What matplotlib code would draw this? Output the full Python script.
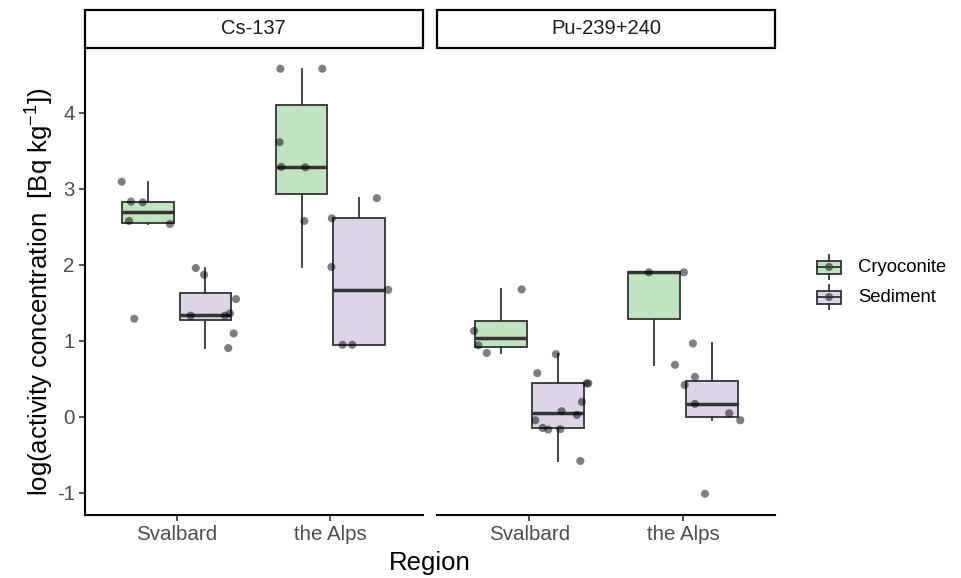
import numpy as np
import matplotlib
matplotlib.use("Agg")
import matplotlib.pyplot as plt
from matplotlib.patches import Rectangle

plt.rcParams['font.family'] = ['Liberation Sans', 'DejaVu Sans']
plt.rcParams['mathtext.fontset'] = 'custom'
plt.rcParams['mathtext.rm'] = 'Liberation Sans'
plt.rcParams['mathtext.it'] = 'Liberation Sans:italic'
plt.rcParams['axes.unicode_minus'] = False

isotopes = ['Cs-137', 'Pu-239+240']
regions = ['Svalbard', 'the Alps']
materials = ['Cryoconite', 'Sediment']
fills = {'Cryoconite': '#c0e3c0', 'Sediment': '#dcd6e8'}

# log(activity concentration) per isotope / region / material
cs_svalbard_cryo = [3.09, 2.83, 2.82, 2.575, 2.535, 1.29]
cs_svalbard_sed = [1.956, 1.868, 1.548, 1.33, 1.33, 1.36, 1.096, 0.904]
cs_alps_cryo = [4.575, 4.575, 3.61, 3.285, 3.28, 2.575, 1.97]
cs_alps_sed = [2.61, 2.875, 1.67, 0.947, 0.947]
pu_svalbard_cryo = [1.675, 1.13, 0.94, 0.84]
pu_svalbard_sed = [0.825, 0.575, 0.44, 0.44, 0.197, 0.075, 0.026,
                   -0.044, -0.145, -0.167, -0.162, -0.579]
pu_alps_cryo = [1.9, 1.9, 0.684]
pu_alps_sed = [0.965, 0.526, 0.42, 0.171, 0.048, -0.044, -1.01]

# horizontal jitter of each point around its region
cs_svalbard_cryo_jit = [-0.358, -0.297, -0.221, -0.310, -0.044, -0.276]
cs_svalbard_sed_jit = [0.124, 0.178, 0.386, 0.091, 0.314, 0.347, 0.371, 0.336]
cs_alps_cryo_jit = [-0.325, -0.052, -0.330, -0.319, -0.163, -0.169, 0.007]
cs_alps_sed_jit = [0.010, 0.303, 0.377, 0.080, 0.143]
pu_svalbard_cryo_jit = [-0.051, -0.361, -0.333, -0.278]
pu_svalbard_sed_jit = [0.172, 0.051, 0.372, 0.383, 0.342, 0.209, 0.309,
                       0.038, 0.086, 0.122, 0.200, 0.331]
pu_alps_cryo_jit = [-0.223, 0.005, -0.053]
pu_alps_sed_jit = [0.064, 0.077, 0.010, 0.077, 0.300, 0.372, 0.142]

groups = {
    ('Cs-137', 'Svalbard', 'Cryoconite'): (cs_svalbard_cryo, cs_svalbard_cryo_jit),
    ('Cs-137', 'Svalbard', 'Sediment'): (cs_svalbard_sed, cs_svalbard_sed_jit),
    ('Cs-137', 'the Alps', 'Cryoconite'): (cs_alps_cryo, cs_alps_cryo_jit),
    ('Cs-137', 'the Alps', 'Sediment'): (cs_alps_sed, cs_alps_sed_jit),
    ('Pu-239+240', 'Svalbard', 'Cryoconite'): (pu_svalbard_cryo, pu_svalbard_cryo_jit),
    ('Pu-239+240', 'Svalbard', 'Sediment'): (pu_svalbard_sed, pu_svalbard_sed_jit),
    ('Pu-239+240', 'the Alps', 'Cryoconite'): (pu_alps_cryo, pu_alps_cryo_jit),
    ('Pu-239+240', 'the Alps', 'Sediment'): (pu_alps_sed, pu_alps_sed_jit),
}

W, H = 961, 578
fig = plt.figure(figsize=(W / 100, H / 100), dpi=100)

edge = '#333333'
allv = np.concatenate([g[0] for g in groups.values()])
pad = 0.05 * (allv.max() - allv.min())
ylim = (allv.min() - pad, allv.max() + pad)

panel_left = [84.5, 437.3]
panel_w = 338
panel_top, panel_bot = 47.5, 515
strip_h = 37.5

axes = []
for j, iso in enumerate(isotopes):
    ax = fig.add_axes([panel_left[j] / W, 1 - panel_bot / H,
                       panel_w / W, (panel_bot - panel_top) / H])
    axes.append(ax)
    for i, reg in enumerate(regions):
        for k, mat in enumerate(materials):
            vals, jit = groups[(iso, reg, mat)]
            pos = i + 1 + (k - 0.5) * 0.375
            ax.boxplot(vals, positions=[pos], widths=0.3375, patch_artist=True,
                       showfliers=False, showcaps=False, whis=1.5,
                       manage_ticks=False,
                       boxprops=dict(facecolor=fills[mat], edgecolor=edge, linewidth=1.3),
                       medianprops=dict(color=edge, linewidth=2.5),
                       whiskerprops=dict(color=edge, linewidth=1.3))
        for k, mat in enumerate(materials):
            vals, jit = groups[(iso, reg, mat)]
            ax.scatter(i + 1 + np.array(jit), vals, s=34, color='black',
                       alpha=0.5, edgecolors='none', zorder=4)

    ax.set_xlim(0.4, 2.6)
    ax.set_ylim(*ylim)
    ax.set_xticks([1, 2], regions)
    ax.set_yticks(range(-1, 5))
    for s in ['top', 'right']:
        ax.spines[s].set_visible(False)
    for s in ['left', 'bottom']:
        ax.spines[s].set_linewidth(1.5)
    ax.tick_params(labelsize=14.8, labelcolor='#4d4d4d', color=edge,
                   length=4, width=1.2, pad=3)
    if j > 0:
        ax.spines['left'].set_visible(False)
        ax.tick_params(axis='y', left=False, labelleft=False)

    # facet strip
    sh = strip_h / (panel_bot - panel_top)
    ax.add_patch(Rectangle((0, 1), 1, sh, transform=ax.transAxes, clip_on=False,
                           facecolor='white', edgecolor='black', linewidth=1.6))
    ax.text(0.5, 1 + sh / 2, iso, transform=ax.transAxes, ha='center',
            va='center', fontsize=14.5, color='#1a1a1a')

fig.text(40 / W, 1 - 292 / H, r'log(activity concentration  [Bq kg$^{-1}$])',
         rotation=90, ha='center', va='center', fontsize=18.5)
fig.text(429.4 / W, 1 - 563 / H, 'Region', ha='center', va='center', fontsize=18.5)

# legend, drawn as little boxplot keys
leg = fig.add_axes([0, 0, 1, 1])
leg.set_xlim(0, W)
leg.set_ylim(H, 0)
leg.axis('off')
for k, mat in enumerate(materials):
    cy = 267 + k * 30
    leg.add_patch(Rectangle((817, cy - 6.5), 24, 13, facecolor=fills[mat],
                            edgecolor=edge, linewidth=1.3))
    leg.plot([829, 829], [cy - 12, cy - 6.5], color=edge, lw=1.3)
    leg.plot([829, 829], [cy + 6.5, cy + 12], color=edge, lw=1.3)
    leg.plot([817, 841], [cy, cy], color=edge, lw=1.3)
    leg.scatter([829], [cy], s=34, color='black', alpha=0.5, edgecolors='none')
    leg.text(858, cy + 1, mat, ha='left', va='center', fontsize=13.3, color='black')

fig.savefig('out.png', dpi=100)
